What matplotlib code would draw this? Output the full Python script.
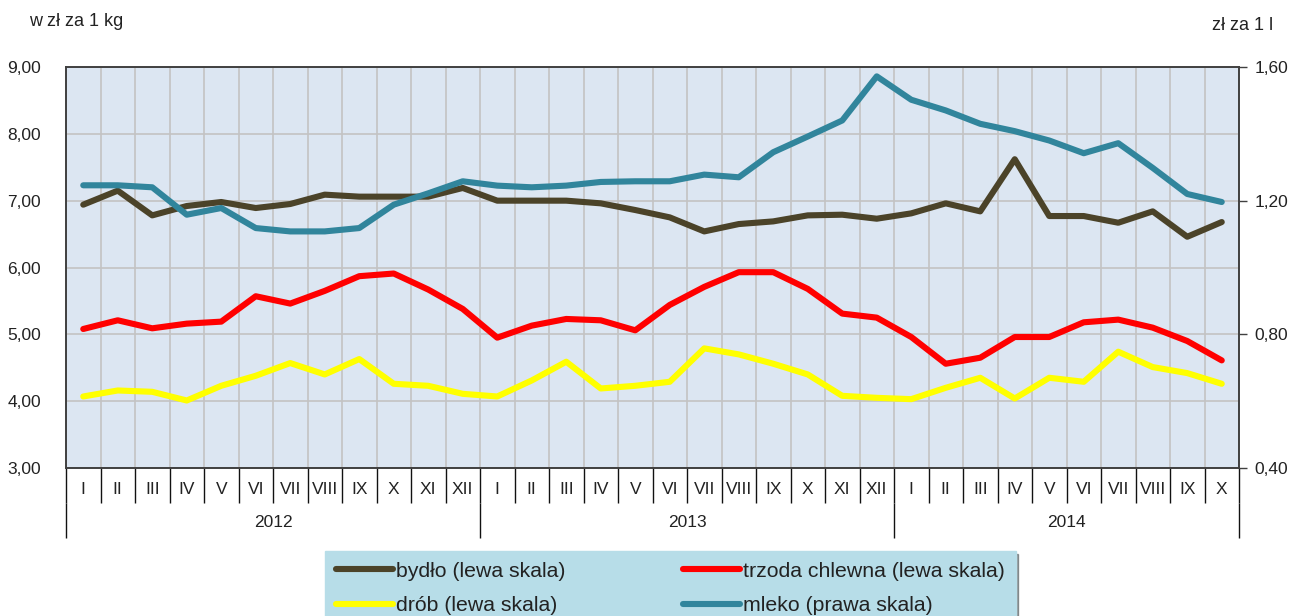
import numpy as np
import matplotlib
matplotlib.use("Agg")
import matplotlib.pyplot as plt
from matplotlib.ticker import FuncFormatter, FixedLocator

plt.rcParams['font.family'] = ['Liberation Sans', 'DejaVu Sans']

months = ["I", "II", "III", "IV", "V", "VI", "VII", "VIII", "IX", "X", "XI", "XII"] * 2 + \
         ["I", "II", "III", "IV", "V", "VI", "VII", "VIII", "IX", "X"]
years = ["2012", "2013", "2014"]
year_len = [12, 12, 10]

# ceny (zł/kg) - lewa skala
bydlo = [6.94, 7.15, 6.78, 6.92, 6.98, 6.89, 6.95, 7.09, 7.06, 7.06, 7.06, 7.19,
         7.00, 7.00, 7.00, 6.96, 6.86, 6.75, 6.54, 6.65, 6.69, 6.78, 6.79, 6.73,
         6.81, 6.96, 6.84, 7.62, 6.77, 6.77, 6.67, 6.84, 6.46, 6.68]
trzoda = [5.08, 5.21, 5.09, 5.16, 5.19, 5.57, 5.46, 5.65, 5.87, 5.91, 5.67, 5.38,
          4.95, 5.13, 5.23, 5.21, 5.06, 5.44, 5.71, 5.93, 5.93, 5.68, 5.31, 5.25,
          4.96, 4.56, 4.65, 4.96, 4.96, 5.18, 5.22, 5.10, 4.90, 4.61]
drob = [4.07, 4.16, 4.14, 4.01, 4.23, 4.38, 4.57, 4.40, 4.63, 4.26, 4.23, 4.11,
        4.07, 4.31, 4.59, 4.19, 4.23, 4.29, 4.79, 4.70, 4.56, 4.40, 4.08, 4.05,
        4.03, 4.20, 4.35, 4.04, 4.35, 4.29, 4.74, 4.51, 4.42, 4.26]
# cena mleka (zł/l) - prawa skala
mleko = [1.246, 1.246, 1.240, 1.158, 1.178, 1.118, 1.108, 1.108, 1.118, 1.188, 1.222, 1.258,
         1.245, 1.240, 1.245, 1.256, 1.258, 1.258, 1.278, 1.270, 1.345, 1.392, 1.440, 1.572,
         1.502, 1.470, 1.430, 1.408, 1.380, 1.342, 1.372, 1.298, 1.220, 1.196]

left_ticks = [3, 4, 5, 6, 7, 8, 9]
right_ticks = [0.4, 0.8, 1.2, 1.6]

c_bydlo = "#4b4329"
c_trzoda = "#ff0000"
c_drob = "#ffff00"
c_mleko = "#31859c"
spine_c = "#404040"
txt_c = "#222222"
lw = 4.4
fs = 12.5

fig = plt.figure(figsize=(12.93, 6.16), dpi=100)
ax = fig.add_axes([66 / 1293, 148 / 616, 1173 / 1293, 401 / 616])
ax.set_facecolor("#dce6f2")

n = len(months)
x = np.arange(n) + 0.5

ax.plot(x, bydlo, color=c_bydlo, lw=lw, solid_capstyle="round", label="bydło (lewa skala)", zorder=3)
ax.plot(x, trzoda, color=c_trzoda, lw=lw, solid_capstyle="round", label="trzoda chlewna (lewa skala)", zorder=3)
ax.plot(x, drob, color=c_drob, lw=lw, solid_capstyle="round", label="drób (lewa skala)", zorder=3)

ax2 = ax.twinx()
ax2.plot(x, mleko, color=c_mleko, lw=lw, solid_capstyle="round", label="mleko (prawa skala)", zorder=3)

ax.set_xlim(0, n)
ax.set_ylim(3, 9)
ax2.set_ylim(0.4, 1.6)

comma = FuncFormatter(lambda v, p: ("%.2f" % v).replace(".", ","))
ax.set_yticks(left_ticks)
ax.yaxis.set_major_formatter(comma)
ax2.set_yticks(right_ticks)
ax2.yaxis.set_major_formatter(comma)
ax.tick_params(axis="y", length=0, pad=18, labelsize=fs, colors=txt_c)
ax2.tick_params(axis="y", length=6, width=1, pad=5, labelsize=fs, colors=txt_c)
ax2.tick_params(axis="y", color=spine_c)

# month separators (major ticks) and month labels (minor ticks)
ax.xaxis.set_major_locator(FixedLocator(np.arange(n + 1)))
ax.xaxis.set_major_formatter(FuncFormatter(lambda v, p: ""))
ax.xaxis.set_minor_locator(FixedLocator(x))
ax.set_xticklabels(months, minor=True)
ax.tick_params(axis="x", which="major", length=25, width=1, color="#111111", direction="out")
ax.tick_params(axis="x", which="minor", length=0, pad=10, labelsize=fs, labelcolor=txt_c)

ax.grid(True, which="major", color="#c3c3c3", lw=1.2, zorder=0)
ax.set_axisbelow(True)

for s in list(ax.spines.values()) + list(ax2.spines.values()):
    s.set_color(spine_c)
    s.set_linewidth(1.2)

# year level
bounds = np.concatenate([[0], np.cumsum(year_len)])
centers = (bounds[:-1] + bounds[1:]) / 2
sec = ax.secondary_xaxis(-35 / 401)
sec.set_xticks(bounds)
sec.set_xticklabels([""] * len(bounds))
sec.set_xticks(centers, labels=years, minor=True)
sec.tick_params(axis="x", which="major", length=25, width=1, color="#111111", direction="out")
sec.tick_params(axis="x", which="minor", length=0, pad=8.5, labelsize=fs, labelcolor=txt_c)
sec.spines["bottom"].set_visible(False)

fig.text(29 / 1293, 1 - 21 / 616, "w zł za 1 kg", fontsize=13, color=txt_c, va="center", ha="left")
fig.text(1212 / 1293, 1 - 26 / 616, "zł za 1 l", fontsize=13, color=txt_c, va="center", ha="left")

# legend
h1, l1 = ax.get_legend_handles_labels()
h2, l2 = ax2.get_legend_handles_labels()
handles = [h1[0], h1[2], h1[1], h2[0]]
labels = [l1[0], l1[2], l1[1], l2[0]]
leg = fig.legend(handles, labels, ncol=2, loc="upper left",
                 bbox_to_anchor=(325 / 1293, 1 - 551 / 616),
                 fontsize=15.3, frameon=True, fancybox=False, shadow=True,
                 facecolor="#b7dde8", edgecolor="#b7dde8", framealpha=1,
                 handlelength=2.7, handletextpad=0.15, columnspacing=5.5,
                 labelspacing=0.73, borderpad=0.5, borderaxespad=0)
for t in leg.get_texts():
    t.set_color(txt_c)

fig.savefig("out.png", dpi=100)
